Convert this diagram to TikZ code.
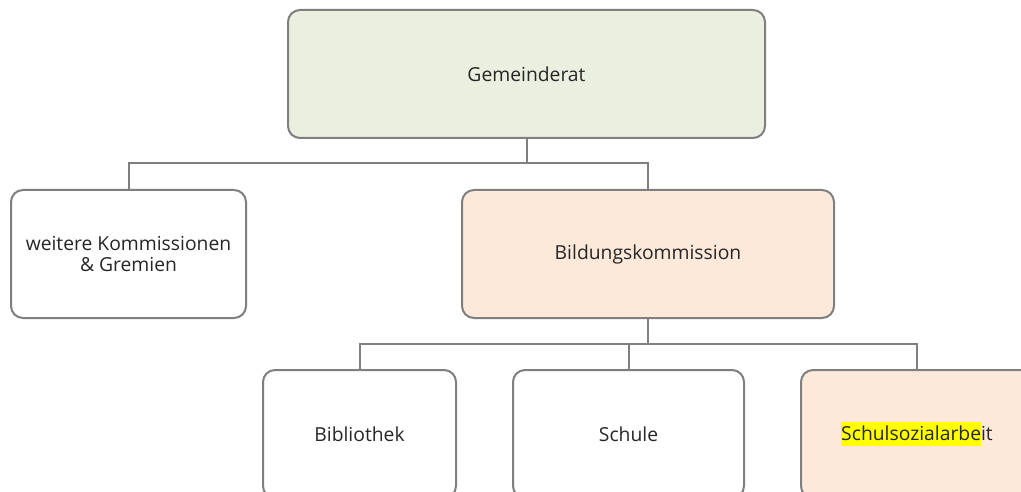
\documentclass[tikz,border=0pt]{standalone}
\usepackage{fontspec}
\setmainfont{Open Sans}
\usetikzlibrary{positioning}
\definecolor{boxline}{HTML}{7F7F7F}
\definecolor{greenfill}{HTML}{EBEFDF}
\definecolor{peachfill}{HTML}{FDE9DA}
\definecolor{hl}{HTML}{FFFF00}
\tikzset{
  orgbox/.style={draw=boxline, line width=2pt, rounded corners=12pt, align=center,
    inner sep=0pt, font=\fontsize{19.3}{22.5}\selectfont, text=black!85},
  conn/.style={draw=boxline, line width=2pt},
}
\begin{document}
\begin{tikzpicture}[x=1pt,y=-1pt]
\useasboundingbox (0,0) rectangle (1021,492);
\clip (0,0) rectangle (1021,492);
\node[orgbox, fill=greenfill, minimum width=477pt, minimum height=128pt] (g) at (526.5,74) {Gemeinderat};
\node[orgbox, fill=white, minimum width=235pt, minimum height=128pt] (w) at (128.5,254) {weitere Kommissionen\\[-1pt]\& Gremien};
\node[orgbox, fill=peachfill, minimum width=372pt, minimum height=128pt] (b) at (648,254) {Bildungskommission};
\node[orgbox, fill=white, minimum width=193pt, minimum height=128pt] (bib) at (359.5,434) {Bibliothek};
\node[orgbox, fill=white, minimum width=231pt, minimum height=128pt] (s) at (628.5,434) {Schule};
\node[orgbox, fill=peachfill, minimum width=232pt, minimum height=128pt] (ssa) at (917,434) {{\setlength{\fboxsep}{0pt}\colorbox{hl}{\rule[-6pt]{0pt}{24pt}Schulsozialarbe}}it};
\coordinate (j1) at (526.5,163);
\coordinate (j2) at (648,344);
\draw[conn] (g.south) -- (j1);
\draw[conn] (w.north) |- (j1);
\draw[conn] (b.north) |- (j1);
\draw[conn] (b.south) -- (j2);
\draw[conn] (bib.north) |- (j2);
\draw[conn] (s.north) |- (j2);
\draw[conn] (ssa.north) |- (j2);
\end{tikzpicture}
\end{document}
